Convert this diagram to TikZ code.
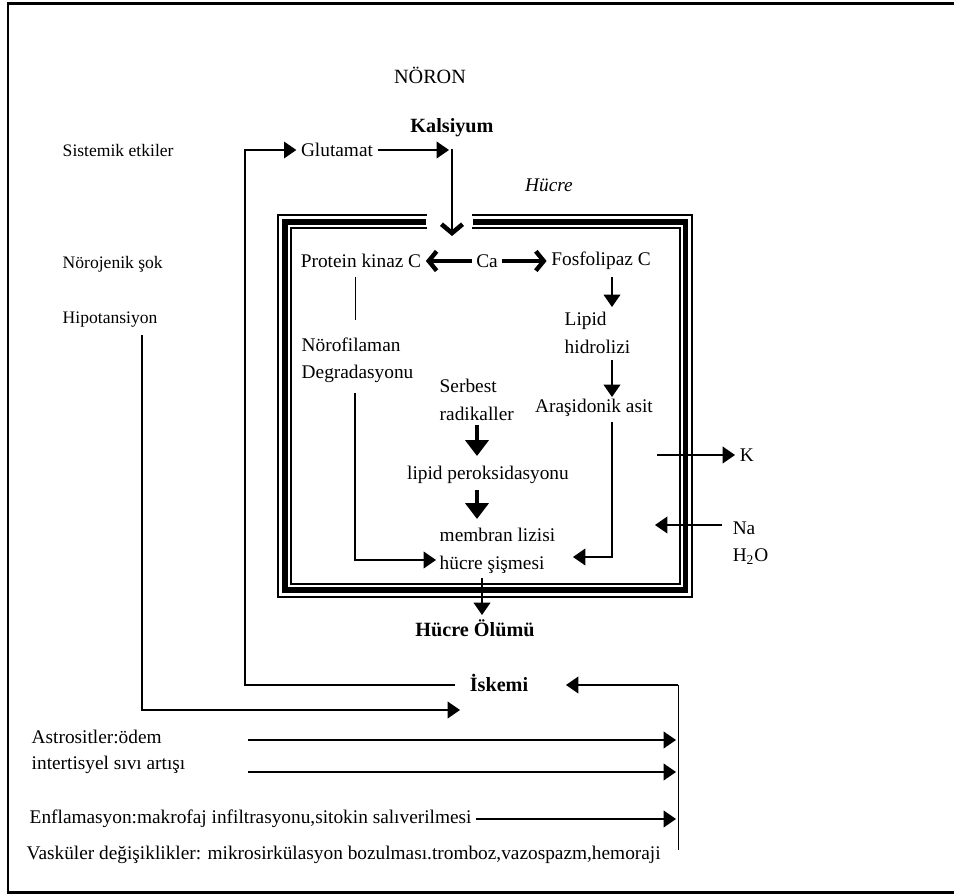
\documentclass[tikz,border=0pt]{standalone}
\usepackage{fontspec}
\setmainfont{Liberation Serif}
\usetikzlibrary{arrows.meta}
\begin{document}
\begin{tikzpicture}[x=0.02cm,y=-0.02cm,
  lbl/.style={font=\fontsize{11}{15.6}\selectfont,inner sep=2.5pt},
  side/.style={font=\fontsize{10}{14}\selectfont,inner sep=2.5pt,anchor=west},
  bold/.style={font=\fontsize{11.5}{14}\selectfont\bfseries,inner sep=2.5pt},
  arr/.style={line width=0.75pt,-{Triangle[length=7pt,width=9.5pt]}},
  bigarr/.style={line width=2.8pt,-{Triangle[length=9pt,width=13pt]}},
  thickarr/.style={line width=2.5pt,-{Straight Barb[length=4.5pt,width=11pt]}},
  chev/.style={line width=0.75pt,-{Straight Barb[length=5pt,width=12pt,line width=2.6pt]}}]
\useasboundingbox (0,0) rectangle (954,895);
% outer frame
\draw[line width=1.7pt] (954,3.5)--(8,3.5)--(8,892.5)--(954,892.5);
% cell wall
\draw[line width=0.6pt] (427,215) -| (278,597) -| (692,215) -- (472,215);
\draw[line width=2.9pt] (426,222) -| (285,590) -| (685.5,222) -- (473,222);
\draw[line width=0.6pt] (427,228) -| (291,584) -| (680,228) -- (472,228);
% texts
\node[lbl,font=\fontsize{11.5}{14}\selectfont] (noron) at (430,75) {NÖRON};
\node[bold] (kalsiyum) at (452,128) {Kalsiyum};
\node[lbl] (glutamat) at (337,150) {Glutamat};
\node[side] (sistemik) at (58,150) {Sistemik etkiler};
\node[side] (norojenik) at (58,264) {Nörojenik şok};
\node[side] (hipo) at (58,320) {Hipotansiyon};
\node[lbl,font=\fontsize{11}{14}\selectfont\itshape] (hucre) at (549,185) {Hücre};
\node[lbl] (pkc) at (361,261) {Protein kinaz C};
\node[lbl] (ca) at (487,261) {Ca};
\node[lbl] (fosfo) at (601,261) {Fosfolipaz C};
\node[lbl,anchor=west,align=left] (lipid) at (560,333) {Lipid\\hidrolizi};
\node[lbl,anchor=west,align=left] (noro) at (297,360) {Nörofilaman\\Degradasyonu};
\node[lbl,anchor=west,align=left] (serbest) at (435,400) {Serbest\\radikaller};
\node[lbl] (arasidonik) at (594,408) {Araşidonik asit};
\node[lbl] (perok) at (488,475) {lipid peroksidasyonu};
\node[lbl,anchor=west,align=left] (membran) at (435,551) {membran lizisi\\hücre şişmesi};
\node[bold] (olum) at (475,628) {Hücre Ölümü};
\node[bold] (iskemi) at (499,683) {İskemi};
\node[lbl,anchor=west] (k) at (735,455) {K};
\node[lbl,anchor=west,align=left] (na) at (728,543) {Na\\H\textsubscript{2}O};
\node[lbl,anchor=west] (astro) at (27,737) {Astrositler:ödem};
\node[lbl,anchor=west] (inter) at (27,765) {intertisyel sıvı artışı};
\node[lbl,anchor=west] (enfla) at (25,819) {Enflamasyon:makrofaj infiltrasyonu,sitokin salıverilmesi};
\node[lbl,anchor=west] (vask) at (22,855) {Vasküler değişiklikler: mikrosirkülasyon bozulması.tromboz,vazospazm,hemoraji};
% free ends
\coordinate (gate) at (452,236);
\coordinate (glutin) at (449,150);
\coordinate (sysbend) at (245,150);
\coordinate (iskleft) at (455,685);
\coordinate (hipotop) at (142,335);
\coordinate (hipoend) at (460,710);
\coordinate (pkctop) at (355,277);
\coordinate (pkcbot) at (355,320);
\coordinate (norobot) at (355,393);
\coordinate (memleft) at (436,560);
\coordinate (fosbot) at (612,277);
\coordinate (lipidin) at (612,307);
\coordinate (lipbot) at (612,360);
\coordinate (arain) at (612,397);
\coordinate (arabot) at (612,422);
\coordinate (memright) at (573,557);
\coordinate (radbot) at (477,425);
\coordinate (perin) at (477,456);
\coordinate (perbot) at (477,490);
\coordinate (memtop) at (477,519);
\coordinate (membot) at (482,578);
\coordinate (olumin) at (482,615);
\coordinate (kstart) at (657,455);
\coordinate (nastart) at (722,525);
\coordinate (naend) at (655,525);
\coordinate (feedtop) at (678,685);
\coordinate (feedbot) at (678,850);
\coordinate (iskright) at (566,685);
\coordinate (astroout) at (248,740);
\coordinate (astroin) at (676,740);
\coordinate (interout) at (248,772);
\coordinate (interin) at (676,772);
\coordinate (enflain) at (676,819);
% connectors
\draw[chev] ([yshift=-4pt]kalsiyum.south) -- (gate);
\draw[arr] (glutamat.east) -- (glutin);
\draw[arr] (iskleft) -| (sysbend) -- (glutamat.west);
\draw[arr] (hipotop) |- (hipoend);
\draw[thickarr] (ca.west) -- (pkc.east);
\draw[thickarr] (ca.east) -- (fosfo.west);
\draw (pkctop) -- (pkcbot);
\draw[arr] (norobot) |- (memleft);
\draw[arr] (fosbot) -- (lipidin);
\draw[arr] (lipbot) -- (arain);
\draw[arr] (arabot) |- (memright);
\draw[bigarr] (radbot) -- (perin);
\draw[bigarr] (perbot) -- (memtop);
\draw[arr] (membot) -- (olumin);
\draw[arr] (kstart) -- (k.west);
\draw[arr] (nastart) -- (naend);
\draw (feedbot) -- (feedtop);
\draw[arr] (feedtop) -- (iskright);
\draw[arr] (astroout) -- (astroin);
\draw[arr] (interout) -- (interin);
\draw[arr] (enfla.east) -- (enflain);
\end{tikzpicture}
\end{document}
